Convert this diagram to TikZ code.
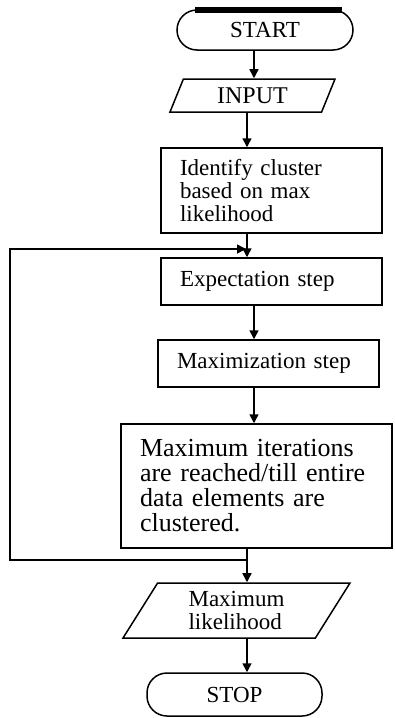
\documentclass[tikz,border=0pt]{standalone}
\usepackage{fontspec}
\setmainfont{Liberation Serif}
\usetikzlibrary{shapes.geometric,arrows.meta}
\tikzset{
  terminal/.style={rectangle,rounded corners=10pt,draw,line width=0.75pt,
    minimum width=#1,minimum height=20pt,inner sep=0pt,
    font=\fontsize{11.5}{12}\selectfont},
  terminal/.default={88pt},
  inout/.style={trapezium,trapezium left angle=50,trapezium right angle=130,
    trapezium stretches body,draw,line width=0.75pt,inner sep=0pt,align=left,
    font=\fontsize{11.5}{11.5}\selectfont},
  process/.style={rectangle,draw,line width=0.75pt,text width=91.5pt,inner xsep=9.5pt,
    minimum height=23.5pt,align=left,font=\fontsize{11.5}{11.5}\selectfont},
  myarrow/.style={-{Triangle[length=4.5pt,width=4.5pt]},line width=0.75pt},
}
\begin{document}
\begin{tikzpicture}[x=0.5pt,y=-0.5pt]
  \useasboundingbox (0,0) rectangle (395,718);
  \node[terminal] (start) at (265,30) {START};
  \draw[line width=3pt] ([xshift=-35pt,yshift=-0.5pt]start.north)
    -- ([xshift=38.5pt,yshift=-0.5pt]start.north);
  \node[inout,minimum width=82.5pt,minimum height=16.5pt,
    font=\fontsize{12}{12}\selectfont] (input) at (252.5,95.5) {INPUT};
  \node[process,minimum height=42.5pt] (ident) at (271.5,190.5) {
    Identify cluster\\based on max\\likelihood};
  \node[process] (expect) at (271.5,281.5) {Expectation step};
  \node[process] (maxim) at (268.5,363.5) {Maximization step};
  \node[process,text width=116.5pt,minimum height=62pt,
    font=\fontsize{13}{12.5}\selectfont] (iter) at (256.5,486) {
    Maximum iterations\\are reached/till entire\\data elements are\\clustered.};
  \node[inout,minimum width=113.5pt,minimum height=27.5pt,
    trapezium left angle=48,trapezium right angle=132] (mlh) at (236.5,610.5) {
    Maximum\\likelihood};
  \node[terminal=87.5pt,minimum height=21.5pt] (stop) at (234.5,694.5) {STOP};
  % arrow columns
  \coordinate (colA) at (247,0);
  \coordinate (colB) at (254,0);
  \draw[myarrow] (start.south -| colB) -- (input.north -| colB);
  \draw[myarrow] (input.south -| colA) -- (ident.north -| colA);
  \draw[myarrow] (ident.south -| colA) -- (expect.north -| colA);
  \draw[myarrow] (expect.south -| colB) -- (maxim.north -| colB);
  \draw[myarrow] (maxim.south -| colB) -- (iter.north -| colB);
  \draw[myarrow] (iter.south -| colA) -- (mlh.north -| colA);
  \draw[myarrow] (mlh.south -| colA) -- (stop.north -| colA);
  % loop back
  \coordinate (loopin) at (247,560);
  \coordinate (loopout) at (246,249);
  \draw[myarrow] (loopin) -- ++(-237,0) |- (loopout);
\end{tikzpicture}
\end{document}
